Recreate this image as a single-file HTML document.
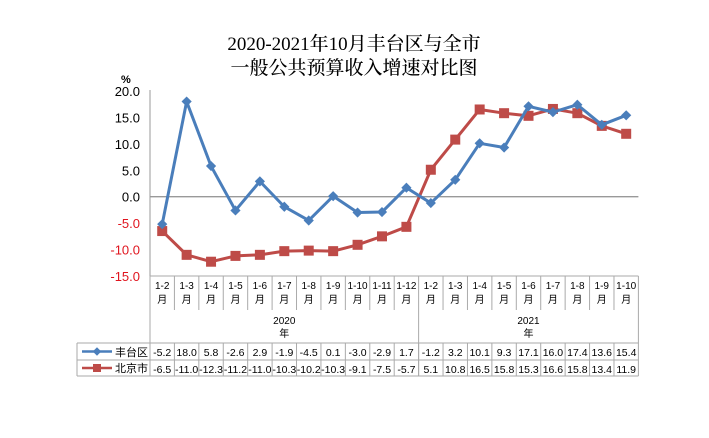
<!DOCTYPE html>
<html><head><meta charset="utf-8"><style>
html,body{margin:0;padding:0;background:#fff;width:709px;height:438px;overflow:hidden}
svg{display:block}
</style></head><body>
<svg id="s" width="709" height="438" xmlns="http://www.w3.org/2000/svg" font-family="'Liberation Sans','Noto Sans CJK SC',sans-serif">
<text x="354" y="50" text-anchor="middle" font-family="'Liberation Serif','Noto Serif CJK SC',serif" font-size="19" font-weight="500">2020-2021年10月丰台区与全市</text>
<text x="354" y="74" text-anchor="middle" font-family="'Liberation Serif','Noto Serif CJK SC',serif" font-size="19" font-weight="500">一般公共预算收入增速对比图</text>
<text x="121" y="83" font-size="11" font-weight="bold">%</text>
</svg>
<script>
var s=document.getElementById('s'),NS='http://www.w3.org/2000/svg';
function el(t,a,txt){var e=document.createElementNS(NS,t);for(var k in a)e.setAttribute(k,a[k]);if(txt!=null)e.textContent=txt;s.appendChild(e);return e;}
var L=150,W=24.42,Y0=196.7,U=5.286;
function X(i){return L+W*(i+0.5);}function Y(v){return Y0-v*U;}
var m=['1-2','1-3','1-4','1-5','1-6','1-7','1-8','1-9','1-10','1-11','1-12','1-2','1-3','1-4','1-5','1-6','1-7','1-8','1-9','1-10'];
var a=[-5.2,18.0,5.8,-2.6,2.9,-1.9,-4.5,0.1,-3.0,-2.9,1.7,-1.2,3.2,10.1,9.3,17.1,16.0,17.4,13.6,15.4];
var b=[-6.5,-11.0,-12.3,-11.2,-11.0,-10.3,-10.2,-10.3,-9.1,-7.5,-5.7,5.1,10.8,16.5,15.8,15.3,16.6,15.8,13.4,11.9];
var R=L+20*W;
for(var v=20;v>=-15;v-=5){el('text',{x:140,y:Y(v)+5,'text-anchor':'end','font-size':13,fill:v<0?'#e0141e':'#000'},v.toFixed(1));}
el('line',{x1:L,y1:Y(0),x2:R,y2:Y(0),stroke:'#999','stroke-width':1.3});
el('line',{x1:L,y1:90,x2:L,y2:276,stroke:'#999'});
var g='#aaa';
el('line',{x1:L,y1:276,x2:R,y2:276,stroke:g});
for(var i=0;i<=20;i++){var x=L+W*i;var full=(i==0||i==11||i==20);el('line',{x1:x,y1:276,x2:x,y2:full?376:310,stroke:g});
 if(i<20){el('line',{x1:x,y1:343,x2:x,y2:376,stroke:g});
 el('text',{x:X(i),y:289,'text-anchor':'middle','font-size':10},m[i]);el('text',{x:X(i),y:303,'text-anchor':'middle','font-size':10},'月');
 el('text',{x:X(i),y:356,'text-anchor':'middle','font-size':10.5},a[i].toFixed(1));
 el('text',{x:X(i),y:373,'text-anchor':'middle','font-size':10.5},b[i].toFixed(1));}}
el('text',{x:L+W*5.5,y:324,'text-anchor':'middle','font-size':10},'2020');el('text',{x:L+W*5.5,y:337,'text-anchor':'middle','font-size':10},'年');
el('text',{x:L+W*15.5,y:324,'text-anchor':'middle','font-size':10},'2021');el('text',{x:L+W*15.5,y:337,'text-anchor':'middle','font-size':10},'年');
el('line',{x1:77,y1:343,x2:R,y2:343,stroke:g});el('line',{x1:77,y1:360,x2:R,y2:360,stroke:g});el('line',{x1:77,y1:376,x2:R,y2:376,stroke:g});
el('line',{x1:77,y1:343,x2:77,y2:376,stroke:g});
el('line',{x1:82,y1:351.5,x2:112,y2:351.5,stroke:'#4a7ebb','stroke-width':2.5});el('rect',{x:94,y:348.5,width:6,height:6,fill:'#4a7ebb',transform:'rotate(45 97 351.5)'});
el('text',{x:115,y:356,'font-size':11},'丰台区');
el('line',{x1:82,y1:368,x2:112,y2:368,stroke:'#be4b48','stroke-width':2.5});el('rect',{x:93,y:364,width:8,height:8,fill:'#be4b48'});
el('text',{x:115,y:372,'font-size':11},'北京市');
function pts(d){return d.map(function(v,i){return X(i)+','+Y(v)}).join(' ');}
el('polyline',{points:pts(b),fill:'none',stroke:'#be4b48','stroke-width':3,'stroke-linejoin':'round'});
b.forEach(function(v,i){el('rect',{x:X(i)-5,y:Y(v)-5,width:10,height:10,fill:'#be4b48'});});
el('polyline',{points:pts(a),fill:'none',stroke:'#4a7ebb','stroke-width':3,'stroke-linejoin':'round'});
a.forEach(function(v,i){el('rect',{x:X(i)-3.6,y:Y(v)-3.6,width:7.2,height:7.2,fill:'#4a7ebb',transform:'rotate(45 '+X(i)+' '+Y(v)+')'});});
</script>
</body></html>
